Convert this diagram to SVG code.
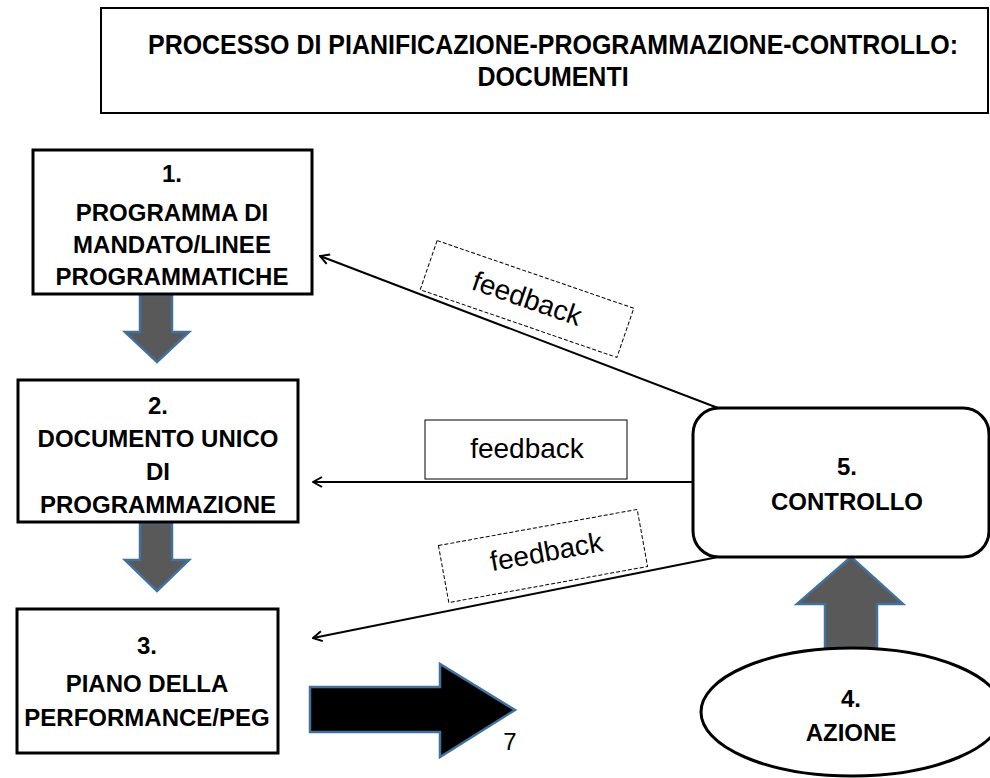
<svg xmlns="http://www.w3.org/2000/svg" width="990" height="778" viewBox="0 0 990 778">
<style>
.box{fill:#fff;stroke:#000;stroke-width:3}
.t{font-family:"Liberation Sans",Arial,sans-serif;font-weight:bold;font-size:24px;fill:#000;text-anchor:middle}
.title{font-family:"Liberation Sans",Arial,sans-serif;font-weight:bold;font-size:27px;fill:#000;text-anchor:middle}
.fb{font-family:"Liberation Sans",Arial,sans-serif;font-size:28px;fill:#000;text-anchor:middle}
.conn{fill:none;stroke:#000;stroke-width:2}
.bigarrow{fill:#595959;stroke:#41719c;stroke-width:2.5}
.lbl{fill:#fff;stroke:#000;stroke-width:1}
.dash{fill:#fff;stroke:#000;stroke-width:1;stroke-dasharray:4 2}
</style>
<defs>
<marker id="open" viewBox="0 0 12 12" refX="11" refY="6" markerWidth="12" markerHeight="12" markerUnits="userSpaceOnUse" orient="auto">
<path d="M2,1 L11,6 L2,11" fill="none" stroke="#000" stroke-width="2"/>
</marker>
</defs>
<rect width="990" height="778" fill="#fff"/>
<g id="title">
<rect x="101" y="8" width="887" height="105" fill="#fff" stroke="#000" stroke-width="2"/>
<text class="title" transform="translate(553,54) scale(0.925,1)" x="0" y="0">PROCESSO DI PIANIFICAZIONE-PROGRAMMAZIONE-CONTROLLO:</text>
<text class="title" transform="translate(553,86) scale(0.925,1)" x="0" y="0">DOCUMENTI</text>
</g>
<g id="connectors">
<path class="bigarrow" d="M140,295 L172,295 L172,332 L189,332 L157,362 L125,332 L140,332 Z"/>
<path class="bigarrow" d="M140,523 L172,523 L172,560 L189,560 L157,591 L125,560 L140,560 Z"/>
<path d="M310,687 L440,687 L440,664 L515,710 L440,757 L440,732 L310,732 Z" fill="#000" stroke="#41719c" stroke-width="2.5"/>
<path class="bigarrow" d="M825,648 L825,604 L797,604 L851,557 L903,604 L877,604 L877,648 Z"/>
<line class="conn" x1="718" y1="408" x2="320" y2="256" marker-end="url(#open)"/>
<line class="conn" x1="694" y1="482" x2="313" y2="482" marker-end="url(#open)"/>
<line class="conn" x1="718" y1="557" x2="313" y2="638" marker-end="url(#open)"/>
<g transform="translate(527,299) rotate(19)">
<rect class="dash" x="-104" y="-26" width="208" height="52"/>
<text class="fb" x="0" y="9">feedback</text>
</g>
<rect class="lbl" x="425" y="420" width="202" height="59"/>
<text class="fb" x="527" y="458">feedback</text>
<g transform="translate(543,556) rotate(-10.3)">
<rect class="dash" x="-101" y="-29" width="202" height="58"/>
<text class="fb" x="4" y="6">feedback</text>
</g>
</g>
<g id="n1">
<rect class="box" x="33" y="150" width="279" height="144"/>
<text class="t" x="172" y="182">1.</text>
<text class="t" x="172" y="221">PROGRAMMA DI</text>
<text class="t" x="172" y="253">MANDATO/LINEE</text>
<text class="t" x="172" y="285">PROGRAMMATICHE</text>
</g>
<g id="n2">
<rect class="box" x="18" y="380" width="280" height="142"/>
<text class="t" x="158" y="414">2.</text>
<text class="t" x="158" y="447">DOCUMENTO UNICO</text>
<text class="t" x="158" y="480">DI</text>
<text class="t" x="158" y="513">PROGRAMMAZIONE</text>
</g>
<g id="n3">
<rect class="box" x="17" y="609" width="261" height="144"/>
<text class="t" x="147" y="654">3.</text>
<text class="t" x="147" y="692">PIANO DELLA</text>
<text class="t" x="147" y="726">PERFORMANCE/PEG</text>
</g>
<g id="n5">
<rect class="box" x="693" y="408" width="296" height="149" rx="26" ry="26"/>
<text class="t" x="847" y="475">5.</text>
<text class="t" x="847" y="510">CONTROLLO</text>
</g>
<g id="n4">
<ellipse class="box" cx="852" cy="712" rx="151" ry="64" stroke-width="2.5"/>
<text class="t" x="851" y="707">4.</text>
<text class="t" x="851" y="741">AZIONE</text>
</g>
<text x="510" y="750" font-family="Liberation Sans,Arial,sans-serif" font-size="24" text-anchor="middle">7</text>
</svg>
